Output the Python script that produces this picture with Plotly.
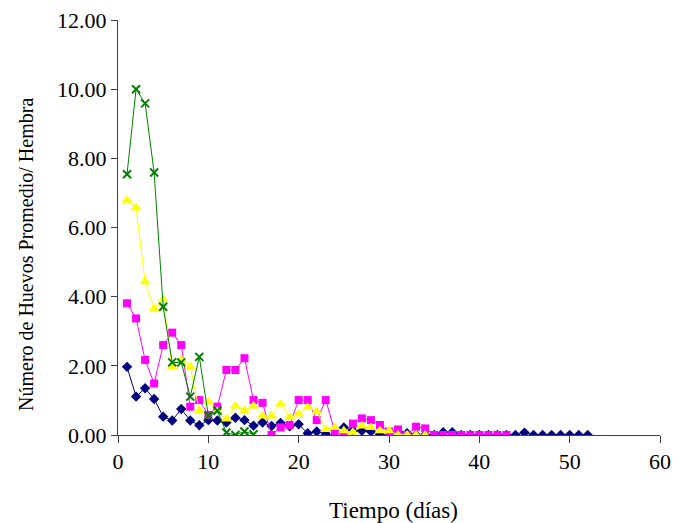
import plotly.graph_objects as go

# Days (x) for each series
days_blue = list(range(1, 53))
days_pink = list(range(1, 44))
days_yellow = list(range(1, 35))
days_green = list(range(1, 16))

blue = [1.97, 1.11, 1.35, 1.04, 0.53, 0.42, 0.75, 0.42, 0.28, 0.43,
        0.42, 0.36, 0.50, 0.43, 0.27, 0.36, 0.26, 0.35, 0.25, 0.31,
        0.05, 0.10, 0.03, 0.17, 0.22, 0.13, 0.12, 0.10, 0.00, 0.00,
        0.10, 0.05, 0.00, 0.00, 0.00, 0.08, 0.08, 0.00, 0.00, 0.00,
        0.00, 0.00, 0.00, 0.00, 0.07, 0.00, 0.00, 0.00, 0.00, 0.00,
        0.00, 0.00]

pink = [3.81, 3.37, 2.17, 1.49, 2.60, 2.96, 2.60, 0.82, 1.01, 0.58,
        0.82, 1.88, 1.88, 2.22, 1.01, 0.93, 0.00, 0.22, 0.29, 1.01,
        1.01, 0.43, 1.01, 0.10, 0.00, 0.33, 0.48, 0.43, 0.29, 0.10,
        0.16, 0.00, 0.24, 0.19, 0.00, 0.00, 0.00, 0.00, 0.00, 0.00,
        0.00, 0.00, 0.00]

yellow = [6.79, 6.57, 4.43, 3.64, 3.92, 1.96, 2.17, 1.97, 0.70, 0.96,
          0.69, 0.46, 0.84, 0.70, 0.84, 0.55, 0.55, 0.90, 0.51, 0.61,
          0.80, 0.67, 0.16, 0.22, 0.12, 0.08, 0.26, 0.22, 0.12, 0.12,
          0.00, 0.00, 0.00, 0.00]

green = [7.54, 10.00, 9.59, 7.59, 3.71, 2.10, 2.10, 1.11, 2.26, 0.56,
         0.70, 0.07, 0.00, 0.10, 0.02]

x_ticks = [0, 10, 20, 30, 40, 50, 60]
y_ticks = [0, 2, 4, 6, 8, 10, 12]

x_title = "Tiempo (días)"
y_title = "Número de Huevos Promedio/ Hembra"

font_family = "Liberation Serif, Times New Roman, serif"

fig = go.Figure()

fig.add_trace(go.Scatter(
    x=days_blue, y=blue, mode="lines+markers",
    line=dict(color="#000080", width=1),
    marker=dict(symbol="diamond", size=8, color="#000080"),
    showlegend=False))

fig.add_trace(go.Scatter(
    x=days_pink, y=pink, mode="lines+markers",
    line=dict(color="#FF00FF", width=1),
    marker=dict(symbol="square", size=8, color="#FF00FF"),
    showlegend=False))

fig.add_trace(go.Scatter(
    x=days_yellow, y=yellow, mode="lines+markers",
    line=dict(color="#FFFF00", width=1),
    marker=dict(symbol="triangle-up", size=10, color="#FFFF00"),
    showlegend=False))

fig.add_trace(go.Scatter(
    x=days_green, y=green, mode="lines+markers",
    line=dict(color="#008000", width=1),
    marker=dict(symbol="x-thin", size=8, color="#008000",
                line=dict(color="#008000", width=2)),
    showlegend=False))

left, right, top, bottom = 118, 23, 20, 88
plot_w = 683 - left - right
plot_h = 523 - top - bottom

fig.update_layout(
    width=683, height=523,
    margin=dict(l=left, r=right, t=top, b=bottom, autoexpand=False),
    paper_bgcolor="white", plot_bgcolor="white",
    font=dict(family=font_family, size=22, color="black"),
    xaxis=dict(
        range=[0, 60], tickvals=x_ticks, ticktext=[str(v) for v in x_ticks],
        showgrid=False, zeroline=False, automargin=False,
        showline=True, linecolor="#404040", linewidth=1,
        ticks="outside", ticklen=7, tickcolor="#404040",
        tickfont=dict(size=22),
    ),
    yaxis=dict(
        range=[0, 12], tickvals=y_ticks, ticktext=[f"{v:.2f}" for v in y_ticks],
        showgrid=False, zeroline=False, automargin=False,
        showline=True, linecolor="#404040", linewidth=1,
        ticks="outside", ticklen=6, tickcolor="#404040",
        tickfont=dict(size=22),
    ),
    annotations=[
        dict(
            text=y_title, textangle=-90, showarrow=False,
            xref="paper", yref="paper",
            x=(26 - left) / plot_w, y=(523 - bottom - 255) / plot_h,
            xanchor="center", yanchor="middle",
            font=dict(size=20),
        ),
        dict(
            text=x_title, showarrow=False,
            xref="paper", yref="paper",
            x=(393 - left) / plot_w, y=-(510 - (523 - bottom)) / plot_h,
            xanchor="center", yanchor="middle",
            font=dict(size=23),
        ),
    ],
)

fig.write_html("out.html")
